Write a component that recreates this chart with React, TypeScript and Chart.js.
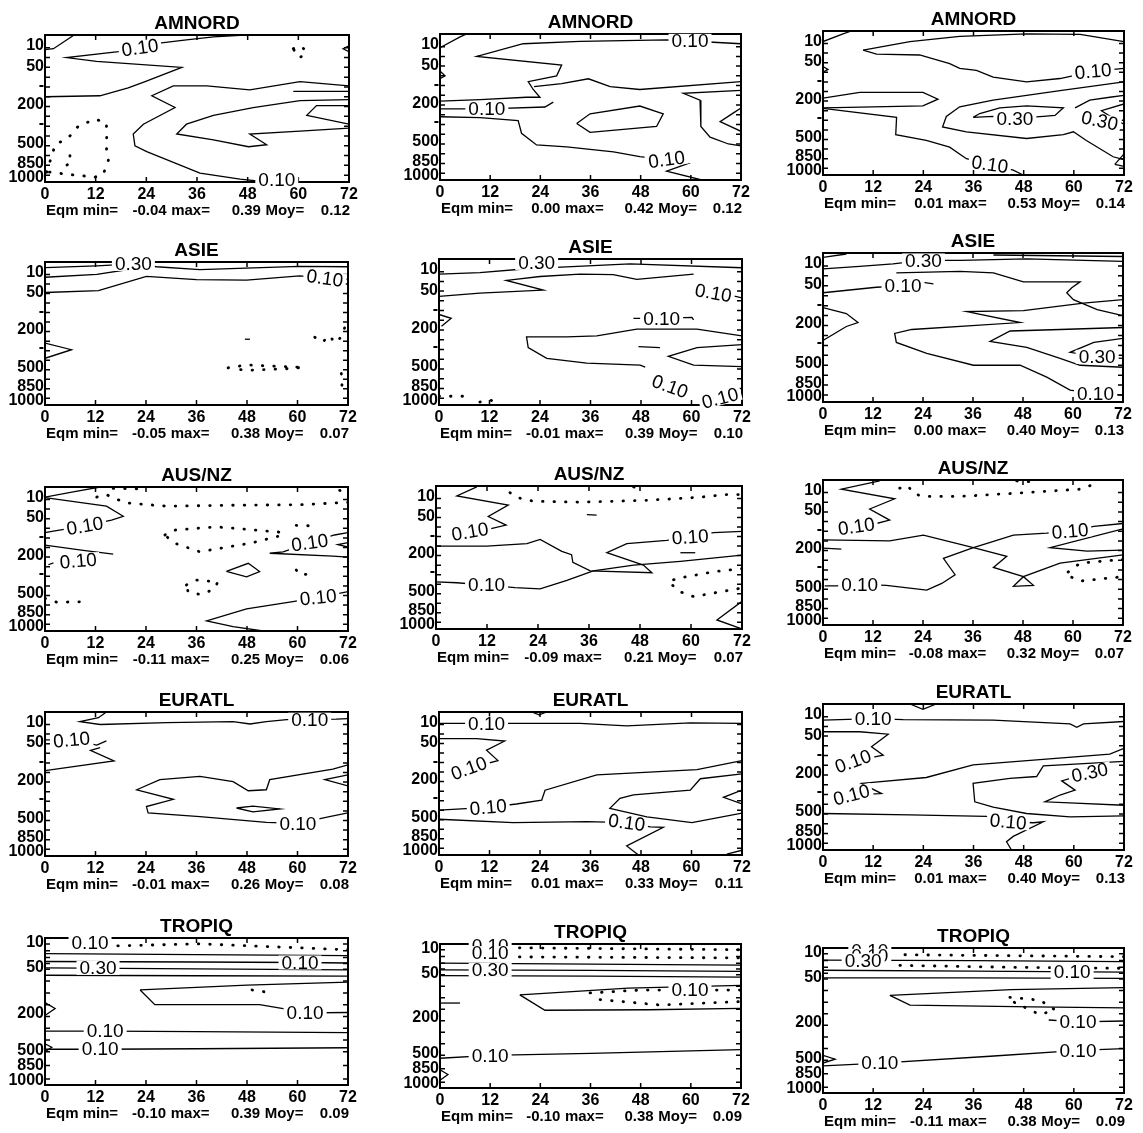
import React, { useEffect, useRef } from "react";
import { Chart, registerables } from "chart.js";

Chart.register(...registerables);

type Pt = [number, number];
type Lbl = [number, number, string, number]; // hour, level, text, rotation (deg)

// ---- axes ----
const HOUR_TICKS = [0, 12, 24, 36, 48, 60, 72];
const LEVEL_LABEL_POS = [1.1, 3.2, 5.15, 7.1, 9.0, 11.1, 13.1, 14.5];
const LEVEL_LABELS = ["10", "50", "-", "200", "-", "500", "850", "1000"];
const LEVEL_MARKS = [1.3, 2.3, 3.3, 4.3, 5.3, 6.3, 7.3, 8.3, 9.3, 10.3, 11.3, 12.3, 13.3, 14.3];
const TROP_LABEL_POS = [0.45, 3.05, 7.7, 11.45, 13.0, 14.5];
const TROP_LABELS = ["10", "50", "200", "500", "850", "1000"];
const TROP_MARKS = [0.6, 1.3, 2.0, 2.6, 3.2, 4.4, 5.6, 6.8, 8.0, 9.2, 10.4, 11.6, 13.0, 14.4];

// ---- panel titles and statistics ----
const REGIONS = [
  "AMNORD", "AMNORD", "AMNORD",
  "ASIE", "ASIE", "ASIE",
  "AUS/NZ", "AUS/NZ", "AUS/NZ",
  "EURATL", "EURATL", "EURATL",
  "TROPIQ", "TROPIQ", "TROPIQ",
];
const EQM_MIN = [-0.04, 0.0, 0.01, -0.05, -0.01, 0.0, -0.11, -0.09, -0.08, -0.01, 0.01, 0.01, -0.1, -0.1, -0.11];
const EQM_MAX = [0.39, 0.42, 0.53, 0.38, 0.39, 0.4, 0.25, 0.21, 0.32, 0.26, 0.33, 0.4, 0.39, 0.38, 0.38];
const EQM_MOY = [0.12, 0.12, 0.14, 0.07, 0.1, 0.13, 0.06, 0.07, 0.07, 0.08, 0.11, 0.13, 0.09, 0.09, 0.09];

// ---- contours: AMNORD ----
const amnord1Solid: Pt[][] = [
  [[0, 1.5], [2, 1.4], [6.9, 0]],
  [[0, 6.3], [13, 6.2], [19.7, 5.4], [23.4, 4.8], [32.4, 3.3], [12.2, 2.7], [5.1, 2.3], [17.4, 1.7], [22.5, 1.25], [27.6, 0.8], [33.5, 0.5], [39.9, 0.2], [46.2, 0.03]],
  [[72, 5.2], [60.4, 4.75], [48.5, 5.6], [38.3, 5.2], [30.4, 5.2], [25.3, 6.2], [30.8, 7.4], [23.3, 9.1], [20.9, 10.1], [21.3, 11.3], [24.1, 11.9], [36.7, 14.1], [46.2, 14.7], [52.5, 15]],
  [[58.8, 5.75], [72, 5.75]],
  [[72, 6.6], [60.4, 6.7], [49.3, 7.4], [39.9, 8.2], [33.5, 9.1], [31.2, 10.1], [39.9, 10.7], [48.2, 11.4], [52.5, 11.2], [48.5, 10.1], [60.4, 9.8], [72, 9.5]],
  [[72, 7.2], [64.3, 7.2], [62, 8.2], [72, 9.1]],
  [[72, 1.1], [70.6, 1.4], [72, 1.7]],
];
const amnord1Dotted: Pt[][] = [
  [[0.4, 14], [2.4, 11.2], [5.5, 10.5], [7.9, 9.3], [11.8, 8.6], [14.4, 8.9], [14.8, 9.9], [14.4, 11.1], [15, 12.8], [13.8, 14.2], [11.8, 14.5], [5.1, 14.2], [1.2, 14], [0.4, 14]],
  [[5.9, 12.3], [6.1, 13.1], [3.9, 13.5]],
  [[58.8, 1.4], [60, 1.1], [61.3, 1.4], [61.6, 2.1], [60, 2.3], [58.8, 1.4]],
];
const amnord1Labels: Lbl[] = [[22.5, 1.3, "0.10", -8], [54.9, 14.8, "0.10", 0]];

const amnord2Solid: Pt[][] = [
  [[0, 1.4], [4.8, 0.3], [6.4, 0]],
  [[0, 6.9], [9.6, 6.75], [20.7, 6.5], [23.9, 6.5], [22.3, 5.7], [21.1, 4.9], [27.9, 4.3], [29.1, 3.2], [8.8, 2.3], [19.9, 1.0], [33.5, 0.75], [54.2, 0.6], [59.8, 0.7], [65.4, 0.85], [72, 1.0]],
  [[0, 7.7], [11.2, 7.7], [25.1, 7.5], [27.1, 7.0]],
  [[0, 8.5], [9.6, 8.6], [18.7, 8.9], [19.5, 10.2], [23.1, 11.4], [30.3, 11.6], [41.5, 12.1], [47.8, 12.6], [54.2, 12.9], [59.4, 13.3], [54.2, 14.1], [62.6, 15]],
  [[32.7, 9.2], [35.9, 8.2], [47.8, 7.4], [53.4, 8.2], [51.8, 9.5], [35.9, 10.1], [32.7, 9.2]],
  [[22.5, 5.4], [29.1, 5.1], [35.5, 4.6], [40.7, 5.4], [47.8, 5.7], [72, 4.9]],
  [[72, 5.8], [58.2, 6.1], [62.2, 6.8], [62.4, 9.5], [64.6, 10.6], [69, 11.3], [72, 11.5]],
  [[72, 7.6], [70.2, 8.1], [67, 9.0], [72, 10]],
  [[0, 3.8], [1.2, 4.3], [0, 4.6]],
];
const amnord2Dotted: Pt[][] = [];
const amnord2Labels: Lbl[] = [[59.8, 0.7, "0.10", 0], [11.2, 7.7, "0.10", 0], [54.2, 12.9, "0.10", -8]];

const amnord3Solid: Pt[][] = [
  [[0, 1.1], [4.8, 0.3], [6.8, 0]],
  [[9.6, 2.0], [20.8, 1.1], [32.7, 0.55], [48.7, 0.3], [61.5, 0.35], [72, 1.1]],
  [[9.6, 2.0], [12.8, 2.4], [23.1, 2.5], [30.3, 3.4], [32.7, 3.9], [36.7, 4.1], [40.7, 4.8], [48.7, 5.3], [56.7, 4.95], [64.6, 4.2], [72, 3.9]],
  [[72, 5.3], [56.7, 6.2], [40.7, 7.2], [32.7, 7.9], [29.5, 8.9], [28.6, 10], [34.3, 10.5], [48.7, 11.2], [57.5, 10.8], [59.9, 10.5], [63, 11.4], [69.4, 13.1], [72, 13.4]],
  [[0, 7.0], [8.8, 6.4], [23.9, 6.4], [27.5, 7.1], [23.9, 7.8], [0, 8.0]],
  [[0, 8.05], [17.6, 9.0], [17.4, 10.8], [24.7, 11.4], [30.3, 12.1], [34.3, 13.3], [39.9, 13.9], [45.5, 14.5], [47.9, 15]],
  [[35.9, 9.0], [40.7, 8.9], [45.9, 9.1], [52.7, 8.9], [55.5, 8.8], [57.5, 8.0], [48.7, 7.8], [42.3, 8.0], [37.5, 8.6], [35.9, 9.0]],
  [[60.3, 8.0], [63.8, 7.2], [68.6, 6.9], [72, 6.7]],
  [[72, 7.6], [66.6, 8.3], [70.2, 9.3], [72, 9.7]],
  [[69.8, 13.9], [72, 12.8], [72, 14.1], [69.8, 13.9]],
  [[0, 3.7], [1.2, 4.0], [0, 4.3]],
];
const amnord3Dotted: Pt[][] = [];
const amnord3Labels: Lbl[] = [[64.6, 4.2, "0.10", -5], [45.9, 9.1, "0.30", 0], [66.2, 9.35, "0.30", 12], [39.9, 13.9, "0.10", 8]];

// ---- contours: ASIE ----
const asie1Solid: Pt[][] = [
  [[0, 0.6], [12.3, 0.4], [21, 0.2], [26.5, 0.5], [36.8, 0.8], [60.5, 0.45], [72, 0.5]],
  [[0, 1.6], [12.3, 1.3], [24.1, 0.5]],
  [[0, 3.2], [12.7, 3.0], [24.1, 1.5], [36, 1.85], [47.9, 1.9], [60.5, 1.45], [66.5, 1.7], [72, 1.8]],
  [[0, 8.5], [6.3, 9.2], [0, 10.1]],
  [[47.5, 8.1], [48.7, 8.1]],
];
const asie1Dotted: Pt[][] = [
  [[43.5, 11.1], [47.9, 10.8], [52.6, 10.9], [61.4, 11.05], [57.4, 11.2], [48.7, 11.35], [43.9, 11.2]],
  [[64.1, 7.9], [66, 8.4], [67.5, 7.7], [69, 8.5], [70.5, 7.8], [71.2, 6.9]],
  [[70.4, 11.7], [70.8, 12.6], [70.4, 13.1]],
];
const asie1Labels: Lbl[] = [[21, 0.2, "0.30", 0], [66.5, 1.7, "0.10", 8]];

const asie2Solid: Pt[][] = [
  [[0, 1.55], [9.7, 1.4], [20.8, 1.0], [30.3, 0.8], [45.4, 0.5], [72, 0.9]],
  [[60.5, 1.55], [47, 2.1], [41.4, 1.6], [33.5, 1.55], [24, 1.8], [16, 2.2], [24.8, 3.2], [9.7, 3.5], [0, 3.85]],
  [[69.2, 3.7], [72, 4.0]],
  [[46.2, 6.1], [52.5, 6.1], [60.1, 6.0], [60.5, 6.25]],
  [[72, 7.9], [61.3, 7.2], [47, 7.2], [37.5, 7.9], [30.3, 8.0], [20.8, 8.0], [21.2, 9.1], [25.6, 10.2], [35.1, 10.7], [47.8, 10.9], [49, 11.1]],
  [[72, 8.8], [61.3, 9.1], [54.5, 10], [60.5, 10.9], [72, 11.05]],
  [[47.4, 9.0], [52.5, 9.1]],
  [[0, 5.7], [2.9, 6.1], [0.6, 6.9]],
];
const asie2Dotted: Pt[][] = [
  [[0, 14.1], [5.7, 14.1]],
  [[9.7, 14.7], [12.1, 14.5], [14, 14.7]],
];
const asie2Labels: Lbl[] = [[23.2, 0.4, "0.30", 0], [65.2, 3.5, "0.10", 10], [52.9, 6.1, "0.10", 0], [54.9, 13.1, "0.10", 20], [66.8, 14.3, "0.10", -15]];

const asie3Solid: Pt[][] = [
  [[0, 0.45], [5.6, 0.1]],
  [[0, 1.6], [8.8, 1.35], [16.8, 1.1], [24.1, 0.75], [32.9, 0.75], [48.9, 0.6], [72, 0.85]],
  [[40.9, 0.2], [72, 0.35]],
  [[0, 4.0], [12.8, 3.45], [19.2, 3.3], [23.3, 2.9], [26.5, 3.1]],
  [[17.6, 2.0], [32.9, 1.85], [40.9, 2.0], [48.1, 2.9], [61.7, 2.9], [59.7, 3.5], [58.5, 4.0], [60.1, 4.7], [65.8, 5.7], [72, 6.3]],
  [[72, 4.7], [62.5, 5.05], [48.1, 5.8], [34.5, 5.9], [47.3, 7.0], [21.3, 7.7], [17.2, 8.1], [17.6, 9.0], [24.9, 10.1], [36.1, 11.3], [47.3, 11.3], [53.7, 12.5], [59.3, 13.8], [65.4, 14.15], [72, 14.3]],
  [[72, 7.5], [56.9, 7.7], [44.9, 7.85], [40.1, 8.9], [48.9, 9.5], [56.9, 10.6], [61.7, 11.3], [72, 11.5]],
  [[72, 8.6], [65, 9.0], [59.3, 10.0], [65.8, 10.45], [72, 10.6]],
  [[0, 5.5], [5.6, 6.1], [8.4, 7.0], [5.6, 7.4], [0, 8.8]],
];
const asie3Dotted: Pt[][] = [];
const asie3Labels: Lbl[] = [[24.1, 0.75, "0.30", 0], [19.2, 3.3, "0.10", 0], [65.8, 10.45, "0.30", 0], [65.4, 14.15, "0.10", 0]];

// ---- contours: AUS/NZ ----
const ausnz1Solid: Pt[][] = [
  [[13.1, 0], [6.7, 0.5], [0, 1.05]],
  [[0, 1.1], [14.6, 2.0], [18.6, 3.05], [15.8, 3.45], [9.5, 4.05], [2, 4.6], [0, 4.75]],
  [[0, 6.05], [9.1, 6.6], [16.2, 7.0]],
  [[0.8, 8.1], [2, 7.9]],
  [[72, 4.75], [68.8, 5.0], [62.9, 5.8], [56.6, 6.75], [53.4, 6.9], [68.4, 7.2], [72, 7.3]],
  [[72, 5.8], [69.6, 6.0], [72, 6.25]],
  [[43.1, 8.8], [48.3, 7.95], [51, 8.8], [47.9, 9.35], [43.1, 8.8]],
  [[72, 10.9], [68.4, 11.2], [64.9, 11.5], [58.9, 11.95], [47.9, 12.7], [38.4, 13.95], [44.7, 14.55], [51.8, 15]],
];
const ausnz1Dotted: Pt[][] = [
  [[12.3, 1.05], [14.6, 0.8], [16.6, 1.2], [19.4, 1.65], [28.9, 2.0], [44.7, 1.9], [60.5, 1.85], [72, 1.6]],
  [[16.2, 0.15], [22.5, 0.2]],
  [[70, 0.35], [72, 0.8]],
  [[28.5, 5.0], [30.5, 4.5], [40.7, 4.15], [55.8, 4.7], [56.6, 5.0], [49.4, 5.8], [36.8, 6.75], [30.5, 5.8], [28.5, 5.0]],
  [[59.7, 4.0], [63.7, 4.05]],
  [[59.7, 8.65], [60.9, 9.2], [64.1, 8.9]],
  [[33.6, 10.2], [36, 9.7], [41.1, 9.9], [40, 10.7], [36.8, 11.2], [34, 10.9], [33.6, 10.2]],
  [[0, 11.6], [2.8, 12.0], [9.9, 11.95]],
];
const ausnz1Labels: Lbl[] = [[9.5, 4.05, "0.10", -10], [7.9, 7.7, "0.10", -5], [62.9, 5.8, "0.10", -8], [64.9, 11.5, "0.10", -6]];

const ausnz2Solid: Pt[][] = [
  [[9.6, 0.1], [4.9, 1.05], [17, 2.0], [12.3, 3.2], [16.5, 4.1], [12.7, 4.5], [8, 4.8], [3.3, 5.15]],
  [[0, 6.3], [11.9, 6.3], [21.4, 6.05], [24.5, 5.6], [29.6, 6.85], [31.9, 7.2], [32.2, 8.0], [36.3, 8.9], [50.8, 9.1], [48.8, 8.3], [40.2, 7.0], [44.9, 6.05], [54.3, 5.7], [59.8, 5.35], [65.3, 4.9], [72, 4.75]],
  [[0, 10.05], [4.9, 10.15], [11.9, 10.4], [18.6, 10.65], [24.5, 10.8], [30.8, 9.9], [37, 8.9], [46.5, 8.3], [57.5, 7.9], [72, 7.25]],
  [[57.5, 7.0], [61, 7.0]],
  [[72, 12.1], [66.1, 14.05], [72, 15]],
  [[35.5, 3.0], [37.8, 3.05]],
];
const ausnz2Dotted: Pt[][] = [
  [[17.4, 0.7], [19, 1.2], [22.9, 1.6], [33.9, 1.7], [49.6, 1.5], [61.4, 1.2], [68.4, 0.9], [72, 0.9]],
  [[46.5, 0.1], [48.8, 0.2]],
  [[72, 8.65], [65.3, 9.0], [56.7, 9.7], [54.7, 10.05], [57.5, 11.1], [60.6, 11.6], [72, 10.7]],
];
const ausnz2Labels: Lbl[] = [[8, 4.8, "0.10", -10], [59.8, 5.35, "0.10", -4], [11.9, 10.4, "0.10", 0]];

const ausnz3Solid: Pt[][] = [
  [[13.6, 0.1], [4.4, 0.95], [17.2, 1.95], [11.2, 3.0], [16, 4.15], [12.8, 4.5], [8, 4.8]],
  [[0, 6.2], [16, 6.3], [24.1, 5.7], [36.1, 7.0], [44.1, 7.9], [40.9, 9.05], [48.1, 10], [50.5, 10.9], [45.7, 11.0], [48.1, 10], [56.9, 8.6], [72, 7.75]],
  [[72, 4.5], [65, 4.8], [59.3, 5.3], [53.7, 5.5], [45.7, 5.7], [36.1, 7.0], [28.9, 8.1], [31.7, 9.8], [28.5, 10.7], [24.9, 11.4], [15.2, 10.9], [8.8, 10.8], [3.2, 10.95], [0.4, 10.95]],
  [[72, 5.05], [54.5, 7.0], [63.4, 7.35], [72, 7.25]],
  [[0, 7.05], [4.4, 7.15]],
];
const ausnz3Dotted: Pt[][] = [
  [[18.4, 0.85], [20.4, 0.6], [21.7, 1.4], [24.1, 1.7], [32.9, 1.7], [48.9, 1.3], [61.7, 0.95], [65, 0.45]],
  [[46.5, 0.1], [50.5, 0.2]],
  [[72, 8.2], [61.7, 8.6], [58.1, 9.75], [61.7, 10.45], [72, 10]],
];
const ausnz3Labels: Lbl[] = [[8, 4.8, "0.10", -8], [59.3, 5.3, "0.10", -5], [8.8, 10.8, "0.10", 0]];

// ---- contours: EURATL ----
const euratl1Solid: Pt[][] = [
  [[14.6, 0], [12.7, 0.6], [8.3, 1.0], [13.1, 1.3], [28.9, 1.1], [44.7, 1.0], [48.7, 1.25], [52.6, 1.0], [57.4, 0.8], [62.9, 0.8], [69.2, 0.75], [72, 0.7]],
  [[0, 2.9], [6.3, 2.9], [12.3, 3.45], [14.6, 3.0]],
  [[13.1, 3.7], [10.8, 4.0], [16.4, 5.1], [0, 6.1]],
  [[72, 5.5], [68.4, 5.95], [53.4, 7.05], [52.6, 8.1], [48.3, 8.2], [44.7, 7.25], [36.8, 6.7], [27.3, 7.05], [21.8, 8.1], [30.5, 9.1], [24.1, 9.85], [24.5, 10.5], [36.8, 10.9], [52.6, 11.5], [60.1, 11.6], [67.6, 10.9], [72, 10.5]],
  [[45.5, 10.0], [49.4, 9.8], [55.8, 10.1], [49.4, 10.4], [45.5, 10.0]],
  [[72, 6.55], [66.5, 7.05], [72, 7.7]],
];
const euratl1Dotted: Pt[][] = [];
const euratl1Labels: Lbl[] = [[62.9, 0.8, "0.10", 0], [6.3, 2.9, "0.10", -5], [60.1, 11.6, "0.10", 0]];

const euratl2Solid: Pt[][] = [
  [[22, 0], [23.8, 0.3], [25.6, 0]],
  [[0, 1.2], [11.3, 1.2], [18.4, 1.2], [33.5, 1.2], [44.6, 1.45], [59.7, 1.15], [72, 1.2]],
  [[0, 2.8], [8.9, 2.8], [15.6, 3.05], [11.3, 4.0], [14, 5.1], [7.1, 5.9]],
  [[0, 10.3], [11.7, 10.0], [18.4, 9.65], [24.4, 9.25], [25.2, 8.2], [37.5, 6.6], [61.3, 6.05], [72, 5.1]],
  [[72, 6.5], [62.1, 7.0], [59.7, 8.2], [46.2, 8.7], [43, 9.05], [40.6, 10.1], [49.4, 11], [60.1, 11.6], [72, 10.6]],
  [[0, 11.25], [17.6, 11.6], [35.1, 11.5], [44.6, 11.6], [50.2, 12.05], [53.3, 12.1], [44.6, 14.05], [47.4, 15]],
  [[72, 8.2], [67.6, 8.95], [72, 9.65]],
  [[68.4, 14.9], [72, 14.5]],
];
const euratl2Dotted: Pt[][] = [];
const euratl2Labels: Lbl[] = [[11.3, 1.2, "0.10", 0], [7.1, 5.9, "0.10", -20], [11.7, 10.0, "0.10", -5], [44.6, 11.6, "0.10", 8]];

const euratl3Solid: Pt[][] = [
  [[20.8, 0], [23.9, 0.55], [27.1, 0]],
  [[0, 1.65], [12, 1.5], [19.2, 1.6], [40.7, 1.65], [59.1, 2.05], [60.7, 2.4], [62.3, 2.05], [72, 1.8]],
  [[0, 2.85], [8.8, 2.85], [15.6, 3.1], [11.6, 4.4], [14.4, 5.25], [7.2, 5.9]],
  [[6.8, 9.35], [14, 9.2], [9.2, 8.15], [24.7, 7.55], [35.9, 6.25], [68.6, 5.15], [72, 4.55]],
  [[72, 5.9], [52.7, 6.35], [51.1, 7.45], [44.7, 7.65], [35.9, 8.15], [36.3, 10.05], [40.7, 10.6], [48.7, 11.25], [59.1, 11.6], [72, 11.5]],
  [[63.8, 7.05], [57.1, 7.9], [60.3, 8.85], [56.7, 9.35], [53.1, 10.05], [72, 10.4]],
  [[0, 11.25], [20.8, 11.4], [39.1, 11.55], [44.3, 12.1], [50.3, 12.2], [52.7, 12.1], [45.5, 13.6], [43.9, 14.15], [45.1, 15]],
];
const euratl3Dotted: Pt[][] = [];
const euratl3Labels: Lbl[] = [[12, 1.5, "0.10", 0], [7.2, 5.9, "0.10", -20], [6.8, 9.35, "0.10", -15], [63.8, 7.05, "0.30", -12], [44.3, 12.1, "0.10", 5]];

// ---- contours: TROPIQ ----
const tropiq1Solid: Pt[][] = [
  [[0, 1.6], [36, 1.7], [72, 1.8]],
  [[0, 2.4], [36, 2.45], [60.6, 2.5], [72, 2.55]],
  [[0, 3.05], [36, 3.15], [72, 3.25]],
  [[0, 3.8], [36, 3.85], [72, 3.9]],
  [[22.6, 5.3], [48, 4.8], [72, 4.5]],
  [[22.6, 5.3], [26.1, 6.8], [51, 6.8], [58, 7.3], [61.8, 7.65], [72, 7.6]],
  [[0, 6.6], [2.4, 7.2], [0, 7.9]],
  [[0, 9.5], [14.3, 9.5], [36, 9.55], [72, 9.65]],
  [[0, 11.35], [13.1, 11.35], [36, 11.3], [72, 11.2]],
  [[0, 10.8], [1.6, 11.15], [0, 11.6]],
];
const tropiq1Dotted: Pt[][] = [
  [[17.3, 0.8], [36.8, 0.6], [72, 1.2]],
  [[49.2, 5.3], [52.3, 5.5]],
];
const tropiq1Labels: Lbl[] = [[10.7, 0.5, "0.10", 0], [12.6, 3.05, "0.30", 0], [60.6, 2.5, "0.10", 0], [61.8, 7.65, "0.10", 0], [14.3, 9.5, "0.10", 0], [13.1, 11.35, "0.10", 0]];

const tropiq2Solid: Pt[][] = [
  [[0, 2.0], [36, 2.1], [72, 2.2]],
  [[0, 2.7], [36, 2.75], [72, 2.85]],
  [[0, 3.3], [36, 3.35], [72, 3.45]],
  [[19.1, 5.3], [45, 4.6], [72, 4.3]],
  [[19.1, 5.3], [25.1, 6.9], [50, 6.85], [72, 6.7]],
  [[0, 6.15], [4.8, 6.15]],
  [[0, 11.9], [12, 11.6], [36, 11.4], [72, 11.0]],
  [[0, 13.1], [1.9, 13.6], [0, 14.2]],
];
const tropiq2Dotted: Pt[][] = [
  [[19, 0.4], [45, 0.5], [72, 0.6]],
  [[19, 1.35], [45, 1.4], [72, 1.45]],
  [[35.9, 5.1], [47.8, 4.8], [59.8, 4.8], [72, 4.8]],
  [[38.3, 5.8], [52.6, 6.35], [72, 6.0]],
];
const tropiq2Labels: Lbl[] = [[12, 0.2, "0.10", 0], [12, 0.95, "0.10", 0], [12, 2.7, "0.30", 0], [59.8, 4.8, "0.10", 0], [12, 11.6, "0.10", 0]];

const tropiq3Solid: Pt[][] = [
  [[0, 1.25], [36, 1.3], [72, 1.4]],
  [[0, 2.3], [36, 2.4], [72, 2.5]],
  [[0, 3.1], [36, 3.1], [72, 3.15]],
  [[16, 4.9], [45, 4.3], [72, 4.1]],
  [[16, 4.9], [20.8, 5.9], [50, 6.1], [72, 6.2]],
  [[54, 7.45], [61, 7.65], [72, 7.55]],
  [[0, 12.2], [13.6, 11.9], [40, 11.2], [61, 10.6], [72, 10.4]],
  [[0, 11.1], [2.9, 11.5], [0, 11.9]],
];
const tropiq3Dotted: Pt[][] = [
  [[19.6, 0.7], [45, 0.8], [72, 0.9]],
  [[18.4, 1.8], [45, 2.0], [72, 2.1]],
  [[44.7, 5.1], [51.9, 5.4], [55.5, 6.4], [51.9, 6.9], [44.7, 5.4], [44.7, 5.1]],
];
const tropiq3Labels: Lbl[] = [[11.2, 0.3, "0.10", 0], [11.2, 0.8, "0.10", 0], [9.6, 1.3, "0.30", 0], [59.6, 2.5, "0.10", 0], [61, 7.65, "0.10", 0], [61, 10.6, "0.10", 0], [13.6, 11.9, "0.10", 0]];

// ---- page layout: plot boxes [left, top, right, bottom] ----
const BOXES: [number, number, number, number][] = [
  [45, 35, 349, 182], [440, 34, 741, 180], [823, 31, 1124, 175],
  [45, 262, 348, 405], [439, 259, 742, 405], [823, 253, 1123, 402],
  [45, 487, 348, 631], [436, 486, 742, 629], [823, 480, 1123, 625],
  [45, 712, 348, 856], [439, 712, 742, 855], [823, 704, 1124, 850],
  [45, 938, 348, 1085], [440, 944, 741, 1088], [823, 948, 1124, 1093],
];

const PANELS = [
  { solid: amnord1Solid, dotted: amnord1Dotted, labels: amnord1Labels },
  { solid: amnord2Solid, dotted: amnord2Dotted, labels: amnord2Labels },
  { solid: amnord3Solid, dotted: amnord3Dotted, labels: amnord3Labels },
  { solid: asie1Solid, dotted: asie1Dotted, labels: asie1Labels },
  { solid: asie2Solid, dotted: asie2Dotted, labels: asie2Labels },
  { solid: asie3Solid, dotted: asie3Dotted, labels: asie3Labels },
  { solid: ausnz1Solid, dotted: ausnz1Dotted, labels: ausnz1Labels },
  { solid: ausnz2Solid, dotted: ausnz2Dotted, labels: ausnz2Labels },
  { solid: ausnz3Solid, dotted: ausnz3Dotted, labels: ausnz3Labels },
  { solid: euratl1Solid, dotted: euratl1Dotted, labels: euratl1Labels },
  { solid: euratl2Solid, dotted: euratl2Dotted, labels: euratl2Labels },
  { solid: euratl3Solid, dotted: euratl3Dotted, labels: euratl3Labels },
  { solid: tropiq1Solid, dotted: tropiq1Dotted, labels: tropiq1Labels },
  { solid: tropiq2Solid, dotted: tropiq2Dotted, labels: tropiq2Labels },
  { solid: tropiq3Solid, dotted: tropiq3Dotted, labels: tropiq3Labels },
];

const PAD_L = 50;
const PAD_T = 40;
const PAD_R = 22;
const PAD_B = 50;
const FAMILY = '"Liberation Sans", Arial, Helvetica, sans-serif';

function makeDecor(i: number, marks: number[]) {
  const panel = PANELS[i];
  return {
    id: "panelDecor" + i,
    beforeDatasetsDraw(chart: any) {
      const { ctx, chartArea: ca } = chart;
      const xs = chart.scales.x;
      const ys = chart.scales.y;
      ctx.save();
      ctx.strokeStyle = "#000";
      ctx.lineWidth = 1.5;
      ctx.beginPath();
      for (const h of HOUR_TICKS.slice(1, -1)) {
        const px = xs.getPixelForValue(h);
        ctx.moveTo(px, ca.bottom);
        ctx.lineTo(px, ca.bottom - 5);
        ctx.moveTo(px, ca.top);
        ctx.lineTo(px, ca.top + 5);
      }
      for (const m of marks) {
        const py = ys.getPixelForValue(m);
        ctx.moveTo(ca.left, py);
        ctx.lineTo(ca.left + 5, py);
        ctx.moveTo(ca.right, py);
        ctx.lineTo(ca.right - 5, py);
      }
      ctx.stroke();
      ctx.lineWidth = 2;
      ctx.strokeRect(ca.left, ca.top, ca.right - ca.left, ca.bottom - ca.top);
      ctx.restore();
    },
    afterDatasetsDraw(chart: any) {
      const { ctx } = chart;
      const xs = chart.scales.x;
      const ys = chart.scales.y;
      ctx.save();
      ctx.font = "19px " + FAMILY;
      ctx.textAlign = "center";
      ctx.textBaseline = "middle";
      for (const [h, lv, txt, rot] of panel.labels) {
        const px = xs.getPixelForValue(h);
        const py = ys.getPixelForValue(lv);
        ctx.save();
        ctx.translate(px, py);
        ctx.rotate((rot * Math.PI) / 180);
        const tw = ctx.measureText(txt).width;
        ctx.fillStyle = "#fff";
        ctx.fillRect(-tw / 2 - 3, -7, tw + 6, 14);
        ctx.fillStyle = "#000";
        ctx.fillText(txt, 0, 1);
        ctx.restore();
      }
      ctx.restore();
    },
    afterDraw(chart: any) {
      const { ctx, chartArea: ca } = chart;
      const w = ca.right - ca.left;
      ctx.save();
      ctx.fillStyle = "#000";
      ctx.textBaseline = "middle";
      ctx.font = "bold 19px " + FAMILY;
      ctx.textAlign = "center";
      ctx.fillText(REGIONS[i], (ca.left + ca.right) / 2, ca.top - 11);
      const y = ca.bottom + 28.5;
      ctx.font = "bold 15px " + FAMILY;
      ctx.textAlign = "left";
      ctx.fillText("Eqm min=", ca.left + 1, y);
      ctx.textAlign = "right";
      ctx.fillText(EQM_MIN[i].toFixed(2), ca.left + 0.4 * w, y);
      ctx.textAlign = "left";
      ctx.fillText("max=", ca.left + 0.415 * w, y);
      ctx.textAlign = "right";
      ctx.fillText(EQM_MAX[i].toFixed(2), ca.left + 0.71 * w, y);
      ctx.textAlign = "left";
      ctx.fillText("Moy=", ca.left + 0.725 * w, y);
      ctx.textAlign = "right";
      ctx.fillText(EQM_MOY[i].toFixed(2), ca.right + 1, y);
      ctx.restore();
    },
  };
}

function ContourPanel({ i }: { i: number }) {
  const ref = useRef<HTMLCanvasElement | null>(null);
  const [l, t, r, b] = BOXES[i];
  const w = r - l + PAD_L + PAD_R;
  const h = b - t + PAD_T + PAD_B;

  useEffect(() => {
    const canvas = ref.current;
    if (!canvas) return;
    const panel = PANELS[i];
    const trop = i >= 12;
    const labelPos = trop ? TROP_LABEL_POS : LEVEL_LABEL_POS;
    const labelTxt = trop ? TROP_LABELS : LEVEL_LABELS;
    const marks = trop ? TROP_MARKS : LEVEL_MARKS;

    const datasets: any[] = [
      ...panel.solid.map((line) => ({
        data: line.map(([x, y]) => ({ x, y })),
        showLine: true,
        borderColor: "#000",
        borderWidth: 1.3,
        pointRadius: 0,
        fill: false,
      })),
      ...panel.dotted.map((line) => ({
        data: line.map(([x, y]) => ({ x, y })),
        showLine: true,
        borderColor: "#000",
        borderWidth: 2.8,
        borderDash: [0.5, 11],
        borderCapStyle: "round",
        pointRadius: 0,
        fill: false,
      })),
    ];

    const chart = new Chart(canvas, {
      type: "scatter",
      data: { datasets },
      options: {
        animation: false,
        responsive: false,
        maintainAspectRatio: false,
        devicePixelRatio: 1,
        layout: { padding: { left: 0, top: PAD_T, right: PAD_R, bottom: 0 } },
        plugins: {
          legend: { display: false },
          tooltip: { enabled: false },
          title: { display: false },
        },
        scales: {
          x: {
            type: "linear",
            min: 0,
            max: 72,
            afterBuildTicks: (s: any) => {
              s.ticks = HOUR_TICKS.map((value) => ({ value }));
            },
            afterFit: (s: any) => {
              s.height = PAD_B;
            },
            ticks: {
              autoSkip: false,
              maxRotation: 0,
              padding: 3,
              color: "#000",
              font: { family: FAMILY, size: 16, weight: "bold" },
              callback: (v: any) => String(v),
            },
            grid: { display: false, drawTicks: false },
            border: { display: false },
          },
          y: {
            type: "linear",
            min: 0,
            max: 15,
            reverse: true,
            afterBuildTicks: (s: any) => {
              s.ticks = labelPos.map((value) => ({ value }));
            },
            afterFit: (s: any) => {
              s.width = PAD_L;
            },
            ticks: {
              autoSkip: false,
              padding: 1,
              color: "#000",
              font: { family: FAMILY, size: 16, weight: "bold" },
              callback: (_v: any, idx: number) => labelTxt[idx],
            },
            grid: { display: false, drawTicks: false },
            border: { display: false },
          },
        },
      } as any,
      plugins: [makeDecor(i, marks)],
    });
    return () => chart.destroy();
  }, [i]);

  return (
    <canvas
      ref={ref}
      width={w}
      height={h}
      style={{ position: "absolute", left: l - PAD_L, top: t - PAD_T, width: w, height: h }}
    />
  );
}

export default function App() {
  return (
    <div style={{ position: "absolute", left: 0, top: 0, width: 1143, height: 1133, background: "#fff", overflow: "hidden" }}>
      {PANELS.map((_, i) => (
        <ContourPanel key={i} i={i} />
      ))}
    </div>
  );
}
